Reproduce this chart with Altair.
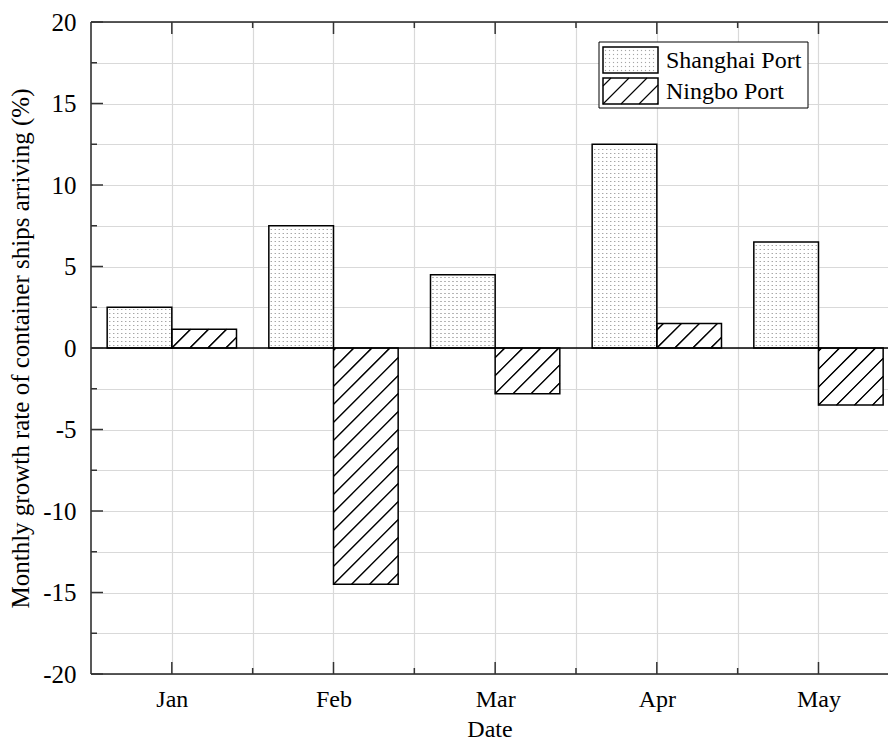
import altair as alt
import numpy as np
import pandas as pd

# ---- data -------------------------------------------------------------
months = ["Jan", "Feb", "Mar", "Apr", "May"]
shanghai = [2.5, 7.5, 4.5, 12.5, 6.5]
ningbo = [1.15, -14.5, -2.8, 1.5, -3.5]
series = ["Shanghai Port", "Ningbo Port"]

y_major = [-20, -15, -10, -5, 0, 5, 10, 15, 20]
y_minor = [-17.5, -12.5, -7.5, -2.5, 2.5, 7.5, 12.5, 17.5]

# ---- layout -----------------------------------------------------------
W, H = 797, 652
X_DOM = [0.5, 5.43]
Y_DOM = [-20, 20]
BAR = 0.4                      # bar width in category units
PX_X = W / (X_DOM[1] - X_DOM[0])
PX_Y = H / (Y_DOM[1] - Y_DOM[0])
FONT = "Liberation Serif"
HATCH_STEP = 18                # px between hatch lines
DOT_STEP = 4                   # px between stipple dots

xs = alt.Scale(domain=X_DOM, nice=False, zero=False)
ys = alt.Scale(domain=Y_DOM, nice=False, zero=False)

# ---- bar rectangles ----------------------------------------------------
rows = []
for i, m in enumerate(months):
    pos = i + 1
    rows.append(dict(month=m, series=series[0], x0=pos - BAR, x1=pos, y0=0.0, y1=shanghai[i]))
    rows.append(dict(month=m, series=series[1], x0=pos, x1=pos + BAR, y0=0.0, y1=ningbo[i]))
bars = pd.DataFrame(rows)


def hatch(x0, x1, ya, yb):
    """45-degree '/' hatch segments clipped to a rectangle (data units)."""
    lo = min(ya, yb)
    w = (x1 - x0) * PX_X
    h = abs(yb - ya) * PX_Y
    segs = []
    for k in range(int(np.ceil(-h / HATCH_STEP)), int(np.floor(w / HATCH_STEP)) + 1):
        c = k * HATCH_STEP
        ua, ub = max(0.0, c), min(w, h + c)
        if ub - ua > 0.8:
            segs.append(dict(hx=x0 + ua / PX_X, hy=lo + (ua - c) / PX_Y,
                             hx2=x0 + ub / PX_X, hy2=lo + (ub - c) / PX_Y))
    return segs


def stipple(x0, x1, ya, yb):
    """Regular grid of small dots inside a rectangle (data units)."""
    lo = min(ya, yb)
    w = (x1 - x0) * PX_X
    h = abs(yb - ya) * PX_Y
    pts = []
    for v in np.arange(2.5, h - 1.5, DOT_STEP):
        for u in np.arange(2.5, w - 1.5, DOT_STEP):
            pts.append(dict(dx=x0 + u / PX_X, dy=lo + v / PX_Y))
    return pts


def to_x(px):
    return X_DOM[0] + px / PX_X


def to_y(py):
    return Y_DOM[1] - py / PX_Y


# legend geometry (pixels from the plot's top-left corner)
LEG_BOX = (508, 20, 717, 86)
LEG_SW = [(512, 25, 567, 51), (512, 56, 567, 82)]
LEG_TX = 575

hatch_rows, dot_rows = [], []
for r in bars.itertuples():
    if r.series == series[0]:
        dot_rows += stipple(r.x0, r.x1, r.y0, r.y1)
    else:
        hatch_rows += hatch(r.x0, r.x1, r.y0, r.y1)

sw_rows = []
for (a, b, c, d), s in zip(LEG_SW, series):
    sw_rows.append(dict(series=s, x0=to_x(a), x1=to_x(c), y0=to_y(d), y1=to_y(b)))
swatches = pd.DataFrame(sw_rows)
dot_rows += stipple(swatches.x0[0], swatches.x1[0], swatches.y0[0], swatches.y1[0])
hatch_rows += hatch(swatches.x0[1], swatches.x1[1], swatches.y0[1], swatches.y1[1])

hatch_df = pd.DataFrame(hatch_rows)
dot_df = pd.DataFrame(dot_rows)

# ---- axes (labels + grid only; ticks drawn as rules) -------------------
x_vals = [1 + 0.5 * k for k in range(9)]
month_js = "[" + ",".join("'" + m + "'" for m in months) + "]"
x_axis = alt.Axis(
    values=x_vals, grid=True, ticks=False, tickSize=0, domain=False,
    labelExpr="datum.value % 1 === 0 ? " + month_js + "[datum.value - 1] : ''",
    labelFont=FONT, labelFontSize=24, labelColor="black", labelPadding=13,
    title="Date", titleFont=FONT, titleFontSize=24, titleFontWeight="normal",
    titleColor="black", titleBaseline="alphabetic", titleY=62,
    gridColor="#d9d9d9", gridWidth=1.2,
)
y_axis = alt.Axis(
    values=sorted(y_major + y_minor), grid=True, ticks=False, tickSize=0, domain=False,
    labelExpr="datum.value % 5 === 0 ? '' + datum.value : ''",
    labelFont=FONT, labelFontSize=25, labelColor="black", labelPadding=15,
    title="Monthly growth rate of container ships arriving (%)",
    titleFont=FONT, titleFontSize=25, titleFontWeight="normal", titleColor="black",
    titleAngle=270, titleAlign="center", titleBaseline="alphabetic",
    titleX=-63, titleY=H / 2,
    gridColor="#d9d9d9", gridWidth=1.2,
)

base = alt.Chart(bars)

bar_fill = base.mark_rect(fill="white").encode(
    x=alt.X("x0:Q", scale=xs, axis=x_axis),
    x2="x1:Q",
    y=alt.Y("y0:Q", scale=ys, axis=y_axis),
    y2="y1:Q",
)

dots = alt.Chart(dot_df).mark_square(size=1.3, color="#a6a6a6", opacity=1).encode(
    x=alt.X("dx:Q", scale=xs, axis=None),
    y=alt.Y("dy:Q", scale=ys, axis=None),
)

hatches = alt.Chart(hatch_df).mark_rule(color="black", strokeWidth=1.1).encode(
    x=alt.X("hx:Q", scale=xs, axis=None),
    x2="hx2:Q",
    y=alt.Y("hy:Q", scale=ys, axis=None),
    y2="hy2:Q",
)

bar_edge = base.mark_rect(fillOpacity=0, stroke="black", strokeWidth=1.5).encode(
    x=alt.X("x0:Q", scale=xs, axis=None),
    x2="x1:Q",
    y=alt.Y("y0:Q", scale=ys, axis=None),
    y2="y1:Q",
)

zero_line = alt.Chart(pd.DataFrame({"v": [0]})).mark_rule(color="black", strokeWidth=1.5).encode(
    y=alt.Y("v:Q", scale=ys, axis=None),
)

one = pd.DataFrame({"k": [0]})

# frame of the plot area
frame = [
    alt.Chart(one).mark_rule(color="#222", strokeWidth=1.5).encode(
        x=alt.value(0), y=alt.value(0), y2=alt.value(H)),
    alt.Chart(one).mark_rule(color="#222", strokeWidth=1.5).encode(
        x=alt.value(0), x2=alt.value(W), y=alt.value(0)),
    alt.Chart(one).mark_rule(color="#222", strokeWidth=1.5).encode(
        x=alt.value(0), x2=alt.value(W), y=alt.value(H)),
]

# inward tick marks
ymaj = pd.DataFrame({"t": y_major})
ymin = pd.DataFrame({"t": y_minor})
xmaj = pd.DataFrame({"t": [1, 2, 3, 4, 5]})
xmin = pd.DataFrame({"t": [1.5, 2.5, 3.5, 4.5]})
ticks = []
for df, ln in ((ymaj, 12), (ymin, 6)):
    ticks.append(alt.Chart(df).mark_rule(color="#333", strokeWidth=1.5).encode(
        y=alt.Y("t:Q", scale=ys, axis=None), x=alt.value(0), x2=alt.value(ln)))
for df, ln in ((xmaj, 12), (xmin, 6)):
    ticks.append(alt.Chart(df).mark_rule(color="#333", strokeWidth=1.5).encode(
        x=alt.X("t:Q", scale=xs, axis=None), y=alt.value(H), y2=alt.value(H - ln)))
    ticks.append(alt.Chart(df).mark_rule(color="#333", strokeWidth=1.5).encode(
        x=alt.X("t:Q", scale=xs, axis=None), y=alt.value(0), y2=alt.value(ln)))

# legend
lx0, ly0, lx1, ly1 = LEG_BOX
legend_box = alt.Chart(one).mark_rect(
    fill="white", stroke="black", strokeWidth=1.0).encode(
    x=alt.value(lx0), x2=alt.value(lx1), y=alt.value(ly0), y2=alt.value(ly1))

sw_fill = alt.Chart(swatches).mark_rect(fill="white").encode(
    x=alt.X("x0:Q", scale=xs, axis=None), x2="x1:Q",
    y=alt.Y("y0:Q", scale=ys, axis=None), y2="y1:Q")
sw_edge = alt.Chart(swatches).mark_rect(fillOpacity=0, stroke="black", strokeWidth=1.5).encode(
    x=alt.X("x0:Q", scale=xs, axis=None), x2="x1:Q",
    y=alt.Y("y0:Q", scale=ys, axis=None), y2="y1:Q")

legend_text = []
for (a, b, c, d), s in zip(LEG_SW, series):
    legend_text.append(alt.Chart(one).mark_text(
        font=FONT, fontSize=24, align="left", baseline="middle", color="black").encode(
        x=alt.value(LEG_TX), y=alt.value((b + d) / 2 + 1), text=alt.value(s)))

chart = alt.layer(
    bar_fill, dots, hatches, bar_edge, zero_line, *frame, *ticks,
    legend_box, sw_fill, dots, hatches, sw_edge, *legend_text,
).resolve_axis(
    x="independent", y="independent",
).properties(
    width=W, height=H,
    padding={"left": 91, "top": 22, "right": 0, "bottom": 66},
    autosize=alt.AutoSizeParams(type="none"),
    background="white",
).configure_view(stroke=None)

chart.save("out.html", embed_options={"renderer": "svg", "actions": False})
